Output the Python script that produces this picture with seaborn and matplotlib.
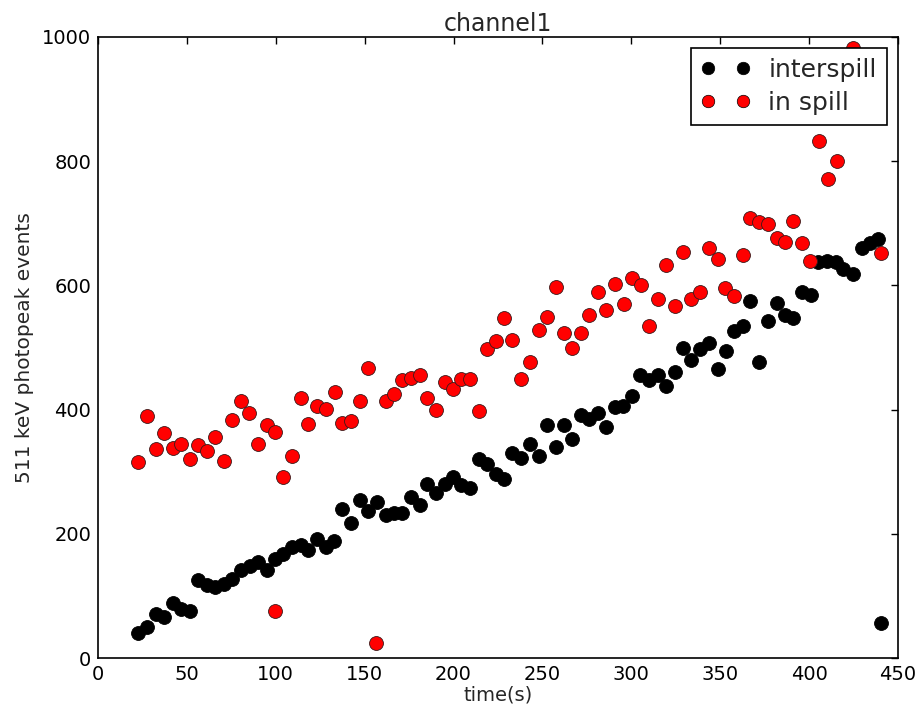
import matplotlib
matplotlib.use("Agg")
import matplotlib.pyplot as plt
from matplotlib.lines import Line2D
import seaborn as sns
import pandas as pd

# interspill counts per time bin
t_inter = [22.5, 27.6, 32.6, 37.1, 42.2, 46.7, 51.7, 56.3, 61.3, 65.8, 70.9, 75.4,
           80.4, 85.5, 89.8, 94.9, 99.6, 104.2, 109.0, 114.0, 118.3, 123.0, 128.0,
           133.0, 137.4, 142.3, 147.4, 151.7, 156.7, 161.8, 166.7, 171.2, 176.1,
           181.1, 185.2, 189.9, 195.2, 199.5, 204.3, 209.4, 214.3, 218.8, 223.7,
           228.6, 233.1, 238.0, 243.0, 247.9, 252.4, 257.5, 262.3, 266.4, 271.5,
           276.2, 281.4, 285.8, 290.8, 295.5, 300.2, 305.0, 310.0, 314.8, 319.3,
           324.3, 329.2, 333.6, 338.6, 343.7, 348.6, 353.0, 357.8, 362.6, 366.8,
           371.9, 376.7, 381.7, 386.4, 391.0, 396.2, 400.8, 405.2, 409.9, 415.0,
           419.3, 424.5, 429.6, 434.3, 438.9, 440.3]
n_inter = [40, 50, 71, 66, 89, 79, 76, 126, 118, 114, 119, 127,
           142, 148, 154, 142, 160, 167, 179, 182, 174, 192, 179,
           189, 240, 218, 255, 236, 251, 230, 234, 234, 259,
           246, 281, 266, 280, 291, 279, 273, 320, 313, 297,
           288, 330, 322, 344, 326, 375, 339, 375, 353, 391,
           385, 394, 372, 404, 406, 422, 456, 447, 456, 438,
           461, 500, 480, 498, 508, 465, 494, 527, 535, 575,
           477, 542, 571, 552, 547, 590, 584, 638, 640, 637,
           626, 618, 661, 669, 674, 56]

# in-spill counts per time bin
t_spill = [22.5, 27.6, 32.6, 37.1, 42.2, 46.7, 51.7, 56.3, 61.3, 65.8, 70.9, 75.4,
           80.4, 85.0, 89.8, 94.9, 99.6, 99.6, 103.9, 109.0, 114.0, 118.3, 123.4,
           128.3, 133.3, 137.4, 142.3, 147.4, 151.7, 156.5, 161.8, 166.7, 171.2,
           176.1, 181.1, 185.2, 189.9, 195.2, 199.5, 204.3, 209.4, 214.6, 218.6,
           223.7, 228.6, 233.1, 238.0, 243.0, 247.9, 252.4, 257.5, 262.3, 266.4,
           271.5, 276.4, 281.4, 285.8, 290.8, 295.9, 300.2, 305.2, 310.1, 315.2,
           319.3, 324.4, 328.8, 333.4, 338.6, 343.7, 348.6, 352.7, 357.9, 362.6,
           366.8, 372.0, 377.0, 381.8, 386.4, 391.0, 396.2, 400.5, 405.6, 410.4,
           415.5, 424.5, 440.3]
n_spill = [316, 390, 337, 362, 338, 345, 320, 343, 333, 356, 317, 383,
           414, 394, 345, 375, 364, 75, 291, 326, 418, 377, 406,
           401, 428, 379, 382, 414, 467, 24, 414, 425, 447,
           451, 455, 418, 400, 445, 433, 450, 450, 398, 498,
           510, 547, 512, 449, 476, 528, 549, 598, 523, 500,
           523, 552, 590, 561, 602, 570, 612, 600, 535, 578,
           633, 567, 653, 578, 590, 661, 643, 596, 583, 649,
           708, 702, 699, 676, 670, 704, 668, 639, 833, 771,
           800, 982, 652]

labels = ["interspill", "in spill"]
colors = ["black", "red"]

df = pd.concat([
    pd.DataFrame({"time": t_inter, "events": n_inter, "series": labels[0]}),
    pd.DataFrame({"time": t_spill, "events": n_spill, "series": labels[1]}),
])

sns.set_style("white")
plt.rcParams["font.family"] = ["DejaVu Sans"]

fig = plt.figure(figsize=(9.21, 7.10), dpi=100)
ax = fig.add_axes([0.1064, 0.0732, 0.8686, 0.8747])

for lab, col in zip(labels, colors):
    sub = df[df["series"] == lab]
    sns.scatterplot(data=sub, x="time", y="events", color=col, s=100,
                    edgecolor="black" if col == "black" else "#3a1a1a",
                    linewidth=0.6, ax=ax, legend=False, zorder=3, clip_on=False)

ax.set_xlim(0, 450)
ax.set_ylim(0, 1000)
ax.set_xticks(range(0, 451, 50))
ax.set_yticks(range(0, 1001, 200))
ax.tick_params(direction="in", length=5, width=1, top=True, right=True,
               labelsize=14, colors="black", pad=5)
for sp in ax.spines.values():
    sp.set_color("black")
    sp.set_linewidth(1.2)

ax.set_xlabel("time(s)", fontsize=14, labelpad=1)
ax.set_ylabel("511 keV photopeak events", fontsize=14.5, labelpad=6)
ax.set_title("channel1", fontsize=17, pad=4)

handles = [Line2D([], [], linestyle="none", marker="o", markersize=9,
                  markerfacecolor=c, markeredgecolor="black",
                  markeredgewidth=0.5) for c in colors]
leg = ax.legend(handles, labels, loc="upper right", numpoints=2, fontsize=18,
                frameon=True, fancybox=False, framealpha=1, edgecolor="black",
                borderpad=0.4, handlelength=2.0, handletextpad=0.7,
                labelspacing=0.35, borderaxespad=0.45)
leg.get_frame().set_linewidth(1.2)
leg.set_zorder(5)

fig.savefig("out.png", dpi=100, facecolor="white")
